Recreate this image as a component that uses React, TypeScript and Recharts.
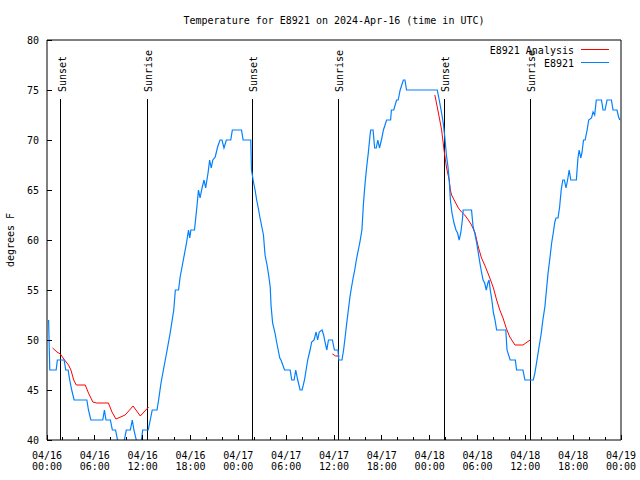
import { LineChart, Line, XAxis, YAxis, ReferenceLine, Legend } from "recharts";

const FONT = "'DejaVu Sans Mono', monospace";

// hours since 04/16 00:00 UTC, temperature in deg F
const e8921: [number, number][] = [
  [0.2, 52], [0.35, 47], [1.15, 47], [1.3, 48], [2.15, 48], [2.35, 47], [2.65, 47], [2.85, 46], [3.1, 45], [3.4, 44],
  [5.0, 44], [5.2, 43], [5.5, 42], [7.0, 42], [7.2, 43], [7.4, 42], [7.95, 42], [8.2, 41], [8.6, 41], [8.85, 40],
  [9.1, 39], [9.5, 39], [9.7, 40], [9.95, 41], [10.45, 41], [10.7, 42], [10.9, 41], [11.2, 40], [11.4, 39], [11.7, 39],
  [11.85, 40], [12.0, 41], [12.7, 41], [12.95, 42], [13.2, 43], [13.8, 43], [14.0, 44], [14.3, 45.7], [14.6, 47], [15.0, 48.7],
  [15.45, 50.7], [15.9, 53], [16.1, 55], [16.5, 55], [16.7, 56.3], [17.1, 58], [17.5, 59.7], [17.75, 61], [17.9, 60.2], [18.05, 61],
  [18.5, 61], [18.8, 63.3], [19.0, 65], [19.2, 64.2], [19.45, 65.2], [19.7, 66], [19.9, 65.2], [20.2, 66.7], [20.4, 68], [20.6, 67.2],
  [20.8, 68], [21.1, 68.3], [21.4, 69.3], [21.7, 70], [21.95, 70], [22.2, 69.2], [22.5, 70], [23.05, 70], [23.25, 71], [24.4, 71],
  [24.6, 70], [25.56, 70], [25.65, 67], [25.9, 65.8], [26.1, 65], [26.3, 64], [26.5, 63.2], [26.7, 62.3], [26.95, 61.3], [27.15, 60.5],
  [27.35, 58.5], [27.6, 57.5], [27.8, 56.5], [28.0, 55.3], [28.1, 53.5], [28.3, 51.7], [28.6, 50.7], [28.8, 49.8], [29.0, 49], [29.2, 48.2],
  [29.35, 48], [29.8, 47], [30.5, 47], [30.7, 46], [31.0, 46], [31.2, 47], [31.45, 46], [31.75, 45], [32.0, 45], [32.3, 46],
  [32.5, 47], [32.7, 48], [33.0, 49], [33.2, 49.8], [33.5, 50], [33.75, 50.8], [33.95, 50], [34.15, 50.8], [34.5, 51], [34.7, 50.5],
  [34.9, 49.7], [35.1, 49], [35.3, 50], [35.8, 50], [36.05, 49], [36.5, 49], [36.6, 48], [37.0, 48], [37.2, 49], [37.4, 50.3],
  [37.6, 51.7], [37.8, 53], [38.0, 54.3], [38.2, 55.3], [38.4, 56.2], [38.6, 57], [38.8, 58], [39.05, 59], [39.25, 59.8], [39.5, 61],
  [39.7, 63.7], [39.9, 65.7], [40.1, 67.3], [40.3, 68.7], [40.5, 70.3], [40.6, 71], [40.9, 71], [41.1, 69.2], [41.3, 69.2], [41.5, 70],
  [41.7, 69.2], [41.95, 70], [42.2, 71], [42.6, 72], [43.1, 72], [43.2, 73], [43.5, 73], [43.85, 74], [44.05, 74], [44.3, 75],
  [44.5, 75.5], [44.7, 76], [44.9, 76], [45.1, 75], [48.95, 75], [49.2, 74], [49.5, 72.7], [49.7, 71.7], [49.9, 70.3], [50.1, 68.5],
  [50.3, 67.3], [50.45, 66], [50.6, 64], [50.8, 62.7], [51.05, 61.7], [51.3, 61], [51.5, 60.7], [51.7, 60], [51.9, 60.7], [52.1, 62],
  [52.2, 63], [53.25, 63], [53.45, 61.3], [53.65, 60.7], [53.9, 59.7], [54.1, 58.7], [54.3, 57.7], [54.5, 56.8], [54.7, 56], [54.9, 55.7],
  [55.1, 55], [55.3, 55.7], [55.45, 56], [55.6, 55], [55.8, 54], [56.0, 52.7], [56.2, 52], [56.4, 51], [57.55, 51], [57.7, 49],
  [58.1, 48], [58.75, 48], [58.9, 47], [59.7, 47], [59.95, 46], [61.0, 46], [61.2, 46.7], [61.4, 47.7], [61.6, 48.7], [61.8, 49.7],
  [62.0, 50.7], [62.2, 52], [62.45, 53.3], [62.65, 55], [62.85, 56.7], [63.1, 58.3], [63.3, 59.7], [63.5, 60.7], [63.7, 61.8], [63.85, 62.2],
  [64.1, 62.2], [64.3, 63.3], [64.5, 65], [64.7, 66], [64.9, 66], [65.1, 65.2], [65.3, 66], [65.5, 67], [65.7, 66], [66.4, 66],
  [66.6, 68.2], [66.75, 69], [66.95, 68.2], [67.1, 68.7], [67.3, 70], [67.5, 70], [67.75, 71], [67.95, 72], [68.3, 72.2], [68.5, 72.8],
  [68.7, 72.5], [68.9, 74], [69.55, 74], [69.75, 73], [70.0, 73], [70.25, 74], [70.8, 74], [71.0, 73], [71.5, 73], [71.7, 72.3],
  [71.85, 72],
];

const analysis: [number, number | null][] = [
  [0.7, 49.2], [1.25, 48.8], [1.67, 48.6], [2.2, 48], [2.7, 47.5], [3.0, 47], [3.35, 46], [3.67, 45.5], [4.8, 45.5], [5.2, 44.7],
  [5.75, 43.8], [6.25, 43.7], [7.7, 43.7], [8.15, 42.8], [8.65, 42.1], [9.8, 42.5], [10.8, 43.4], [11.7, 42.4], [12.75, 43.3], [13, null],
  [35.8, 48.6], [36.2, 48.4], [36.7, 48.4], [37, null],
  [48.65, 74.5], [49.1, 72.7], [49.5, 71], [49.8, 69], [50.1, 67.3], [50.45, 66], [50.6, 65], [50.75, 64.5], [51.2, 63.8], [51.6, 63.2],
  [52.0, 62.8], [52.4, 62.5], [52.85, 62], [53.25, 61.5], [53.7, 60.7], [54.1, 59.3], [54.5, 58.2], [54.9, 57.5], [55.5, 56.3], [56.0, 55.2],
  [56.4, 54], [56.8, 53], [57.2, 52.2], [57.6, 51.2], [58.05, 50.3], [58.7, 49.5], [59.7, 49.5], [60.6, 50],
];

const seriesNames = ["E8921 Analysis", "E8921"];

const sunTimes = [1.7, 12.57, 25.76, 36.54, 49.82, 60.6];
const sunNames = ["Sunset", "Sunrise", "Sunset", "Sunrise", "Sunset", "Sunrise"];
const sunLineTop = 74.1;

const xTicks = Array.from({ length: 37 }, (_, i) => i * 2);
const majorTicks = [0, 6, 12, 18, 24, 30, 36, 42, 48, 54, 60, 66, 72];
const tickDates = ["04/16", "04/16", "04/16", "04/16", "04/17", "04/17", "04/17", "04/17", "04/18", "04/18", "04/18", "04/18", "04/19"];
const tickTimes = ["00:00", "06:00", "12:00", "18:00", "00:00", "06:00", "12:00", "18:00", "00:00", "06:00", "12:00", "18:00", "00:00"];
const yTicks = [40, 45, 50, 55, 60, 65, 70, 75, 80];

const blueData = e8921.map(([h, t]) => ({ h, t }));
const redData = analysis.map(([h, t]) => ({ h, t }));

const BottomTick = ({ x, y, payload }: any) => {
  const i = majorTicks.indexOf(payload.value);
  return (
    <g>
      <line x1={x} x2={x} y1={y} y2={y - (i >= 0 ? 5 : 3)} stroke="#000" shapeRendering="crispEdges" />
      {i >= 0 && (
        <text x={x} y={y} textAnchor="middle" fontSize={10} fontFamily={FONT} fill="#000">
          <tspan x={x} dy={19}>{tickDates[i]}</tspan>
          <tspan x={x} dy={11}>{tickTimes[i]}</tspan>
        </text>
      )}
    </g>
  );
};

const TopTick = ({ x, y, payload }: any) => {
  const major = majorTicks.includes(payload.value);
  return <line x1={x} x2={x} y1={y} y2={y + (major ? 5 : 3)} stroke="#000" shapeRendering="crispEdges" />;
};

const LeftTick = ({ x, y, payload }: any) => (
  <g>
    <line x1={x} x2={x + 5} y1={y} y2={y} stroke="#000" shapeRendering="crispEdges" />
    <text x={x - 8} y={y + 3.5} textAnchor="end" fontSize={10} fontFamily={FONT} fill="#000">
      {payload.value}
    </text>
  </g>
);

const RightTick = ({ x, y }: any) => (
  <line x1={x} x2={x - 5} y1={y} y2={y} stroke="#000" shapeRendering="crispEdges" />
);

const SunLabel = ({ viewBox, text }: any) => {
  const x = viewBox.x + 5;
  const y = viewBox.y - 7;
  return (
    <text x={x} y={y} transform={`rotate(-90 ${x} ${y})`} fontSize={10} fontFamily={FONT} fill="#000">
      {text}
    </text>
  );
};

const LegendBox = ({ payload }: any) => {
  const items = [...(payload || [])].sort(
    (a: any, b: any) => seriesNames.indexOf(a.value) - seriesNames.indexOf(b.value)
  );
  return (
    <svg width={200} height={30}>
      {items.map((p: any, i: number) => (
        <g key={p.value}>
          <text x={154} y={11.5 + 13 * i} textAnchor="end" fontSize={10} fontFamily={FONT} fill="#000">
            {p.value}
          </text>
          <line x1={161} x2={189} y1={7.5 + 13 * i} y2={7.5 + 13 * i} stroke={p.color} strokeWidth={1} />
        </g>
      ))}
    </svg>
  );
};

const App = () => {
  return (
    <div style={{ position: "absolute", left: 0, top: 0, width: 640, height: 480, background: "#fff", fontFamily: FONT }}>
      <LineChart width={640} height={480} margin={{ top: 30, right: 9, bottom: 0, left: 7 }}>
        <XAxis
          dataKey="h"
          type="number"
          domain={[0, 72]}
          ticks={xTicks}
          interval={0}
          height={40}
          stroke="#000"
          tickLine={false}
          tickSize={0}
          tickMargin={0}
          tick={<BottomTick />}
        />
        <XAxis
          xAxisId="top"
          orientation="top"
          dataKey="h"
          type="number"
          domain={[0, 72]}
          ticks={xTicks}
          interval={0}
          height={10}
          stroke="#000"
          tickLine={false}
          tickSize={0}
          tickMargin={0}
          tick={<TopTick />}
        />
        <YAxis
          type="number"
          domain={[40, 80]}
          ticks={yTicks}
          interval={0}
          allowDataOverflow
          width={40}
          stroke="#000"
          tickLine={false}
          tickSize={0}
          tickMargin={0}
          tick={<LeftTick />}
        />
        <YAxis
          yAxisId="right"
          orientation="right"
          type="number"
          domain={[40, 80]}
          ticks={yTicks}
          interval={0}
          width={10}
          stroke="#000"
          tickLine={false}
          tickSize={0}
          tickMargin={0}
          tick={<RightTick />}
        />
        {sunTimes.map((t, i) => (
          <ReferenceLine
            key={i}
            segment={[{ x: t, y: sunLineTop }, { x: t, y: 40 }]}
            stroke="#000"
            strokeWidth={1}
            shapeRendering="crispEdges"
            label={<SunLabel text={sunNames[i]} />}
          />
        ))}
        <Line
          data={redData}
          dataKey="t"
          name={seriesNames[0]}
          type="linear"
          stroke="#ff0000"
          strokeWidth={1}
          dot={false}
          isAnimationActive={false}
        />
        <Line
          data={blueData}
          dataKey="t"
          name={seriesNames[1]}
          type="linear"
          stroke="#0080ff"
          strokeWidth={1.2}
          dot={false}
          isAnimationActive={false}
        />
        <Legend
          layout="vertical"
          align="center"
          verticalAlign="middle"
          content={<LegendBox />}
          wrapperStyle={{ left: 420, top: 42, width: 200, height: 30 }}
        />
      </LineChart>
      <svg width={640} height={480} style={{ position: "absolute", left: 0, top: 0, pointerEvents: "none" }}>
        <text x={334} y={23.5} textAnchor="middle" fontSize={10} fontFamily={FONT} fill="#000">
          Temperature for E8921 on 2024-Apr-16 (time in UTC)
        </text>
        <text x={14} y={240} transform="rotate(-90 14 240)" textAnchor="middle" fontSize={10} fontFamily={FONT} fill="#000">
          degrees F
        </text>
      </svg>
    </div>
  );
};

export default App;
